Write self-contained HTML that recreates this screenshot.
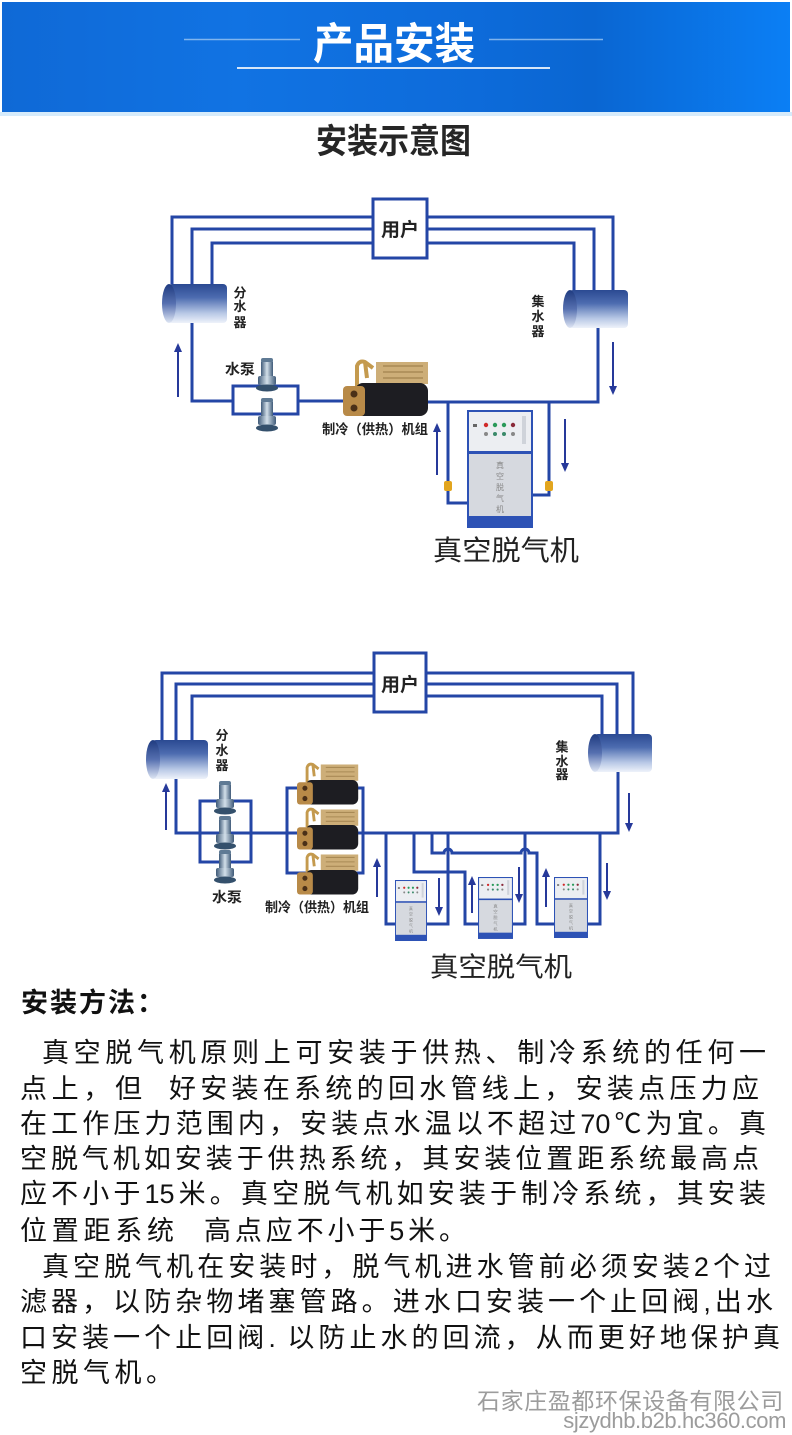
<!DOCTYPE html>
<html><head><meta charset="utf-8">
<style>
html,body{margin:0;padding:0;}
body{width:792px;height:1435px;position:relative;background:#fff;overflow:hidden;font-family:"Liberation Sans","Noto Sans CJK SC",sans-serif;}
.hdr{position:absolute;left:2px;top:2px;width:788px;height:110px;background:linear-gradient(90deg,#0f69d6 0%,#1173e3 30%,#0d6bda 60%,#0a66d2 75%,#0b7ff5 100%);}
.hstrip{position:absolute;left:0;top:112px;width:792px;height:4px;background:#d6ebfb;}
.ln{position:absolute;font-size:27px;line-height:35px;height:35px;text-align:justify;text-align-last:justify;color:#111;font-family:"Liberation Sans","Noto Sans CJK SC",sans-serif;}
</style></head><body>
<div class="hdr"></div>
<div class="hstrip"></div>
<svg width="792" height="1435" style="position:absolute;left:0;top:0" xmlns="http://www.w3.org/2000/svg" font-family="Liberation Sans, Noto Sans CJK SC, sans-serif">
<defs>
<linearGradient id="cyl" x1="0" y1="0" x2="0" y2="1">
<stop offset="0" stop-color="#2b4a92"/><stop offset="0.35" stop-color="#4d6cb0"/><stop offset="0.75" stop-color="#b8c8e6"/><stop offset="1" stop-color="#eef2fa"/></linearGradient>
<linearGradient id="cylc" x1="0" y1="0" x2="0" y2="1">
<stop offset="0" stop-color="#1f3b80"/><stop offset="0.5" stop-color="#5670b0"/><stop offset="1" stop-color="#dfe6f4"/></linearGradient>
<linearGradient id="pg" x1="0" y1="0" x2="1" y2="0">
<stop offset="0" stop-color="#3f5a78"/><stop offset="0.5" stop-color="#d3e0ea"/><stop offset="1" stop-color="#3f5a78"/></linearGradient>
<g id="pump">
<rect x="-6" y="0" width="12" height="5" rx="2" fill="#5f7a94"/>
<rect x="-6" y="4" width="12" height="15" fill="url(#pg)"/>
<rect x="-9" y="18" width="18" height="9" rx="2" fill="url(#pg)"/>
<ellipse cx="0" cy="30" rx="11" ry="3.5" fill="#34506c"/>
</g>
<g id="chiller">
<path d="M14,26 L14,6 Q16,0 22,2 L30,8 M22,2 L24,18" stroke="#c49a4e" stroke-width="4" fill="none"/>
<rect x="33" y="2" width="52" height="22" fill="#cdae78"/>
<path d="M40,6 H80 M40,12 H80 M40,18 H80" stroke="#a98a55" stroke-width="1.5"/>
<rect x="12" y="23" width="73" height="33" rx="8" fill="#1d1d22"/>
<rect x="0" y="26" width="22" height="30" rx="4" fill="#b88a48"/>
<circle cx="11" cy="34" r="3.5" fill="#4a3018"/>
<circle cx="11" cy="48" r="3.5" fill="#4a3018"/>
</g>
<g id="dea">
<rect x="0" y="0" width="66" height="118" fill="#2d52b5"/>
<rect x="2" y="2" width="62" height="39" fill="#eceef2"/>
<rect x="2" y="44" width="62" height="62" fill="#d6d9df"/>
<rect x="6" y="14" width="4" height="3" fill="#666"/>
<circle cx="19" cy="15" r="2.2" fill="#d02a2a"/><circle cx="28" cy="15" r="2.2" fill="#2a9a5a"/><circle cx="37" cy="15" r="2.2" fill="#2a9a5a"/><circle cx="46" cy="15" r="2.2" fill="#8a2a3a"/>
<circle cx="19" cy="24" r="2" fill="#888"/><circle cx="28" cy="24" r="2" fill="#3a8a6a"/><circle cx="37" cy="24" r="2" fill="#3a8a6a"/><circle cx="46" cy="24" r="2" fill="#888"/>
<rect x="55" y="6" width="4" height="28" fill="#cfd3da"/>
<text x="33" y="58" font-size="8" fill="#888" text-anchor="middle">真</text>
<text x="33" y="69" font-size="8" fill="#888" text-anchor="middle">空</text>
<text x="33" y="80" font-size="8" fill="#888" text-anchor="middle">脱</text>
<text x="33" y="91" font-size="8" fill="#888" text-anchor="middle">气</text>
<text x="33" y="102" font-size="8" fill="#888" text-anchor="middle">机</text>
</g>
</defs>

<!-- header decorations -->
<line x1="184" y1="39.5" x2="300" y2="39.5" stroke="#9cc6f2" stroke-width="1.5" opacity="0.8"/>
<line x1="489" y1="39.5" x2="603" y2="39.5" stroke="#9cc6f2" stroke-width="1.5" opacity="0.8"/>
<line x1="237" y1="68" x2="550" y2="68" stroke="#d6e6f8" stroke-width="2"/>
<text x="313" y="59" font-size="43" font-weight="bold" fill="#fff" textLength="162" lengthAdjust="spacingAndGlyphs">产品安装</text>
<text x="316" y="153" font-size="34" font-weight="bold" fill="#262626" textLength="155" lengthAdjust="spacingAndGlyphs">安装示意图</text>

<!-- ============ DIAGRAM 1 ============ -->
<g fill="none" stroke="#2446a6" stroke-width="3">
<polyline points="172,284 172,217 373,217"/>
<polyline points="192,284 192,229 373,229"/>
<polyline points="212,284 212,243 373,243"/>
<polyline points="427,217 613,217 613,290"/>
<polyline points="427,229 594,229 594,290"/>
<polyline points="427,243 574,243 574,290"/>
<polyline points="192,323 192,401 233,401"/>
<rect x="233" y="386" width="65" height="28"/>
<line x1="298" y1="401" x2="348" y2="401"/>
<polyline points="426,402 598,402 598,328"/>
<polyline points="448,402 448,503 467,503"/>
<polyline points="549,402 549,495 533,495"/>
</g>
<rect x="373" y="199" width="54" height="59" fill="#fff" stroke="#2446a6" stroke-width="3"/>
<text x="381" y="236" font-size="19" font-weight="bold" fill="#222" textLength="38" lengthAdjust="spacingAndGlyphs">用户</text>
<!-- cylinders -->
<rect x="168" y="284" width="59" height="39" rx="4" fill="url(#cyl)"/>
<ellipse cx="169" cy="303.5" rx="7" ry="19.5" fill="url(#cylc)"/>
<rect x="569" y="290" width="59" height="38" rx="4" fill="url(#cyl)"/>
<ellipse cx="570" cy="309" rx="7" ry="19" fill="url(#cylc)"/>
<g font-size="13" font-weight="bold" fill="#222" text-anchor="middle">
<text x="240" y="297.5">分</text><text x="240" y="311">水</text><text x="240" y="327">器</text>
<text x="538" y="306">集</text><text x="538" y="321">水</text><text x="538" y="336">器</text>
</g>
<text x="225" y="374" font-size="14" font-weight="bold" fill="#222" textLength="30" lengthAdjust="spacingAndGlyphs">水泵</text>
<use href="#pump" x="267" y="358"/>
<use href="#pump" x="267" y="398"/>
<use href="#chiller" transform="translate(343,360)"/>
<text x="322" y="434" font-size="13.5" font-weight="bold" fill="#222" textLength="106" lengthAdjust="spacingAndGlyphs">制冷（供热）机组</text>
<!-- arrows -->
<g stroke="#26399a" stroke-width="2" fill="#26399a">
<line x1="178" y1="350" x2="178" y2="397"/><polygon points="174,352 182,352 178,343" stroke="none"/>
<line x1="613" y1="342" x2="613" y2="388"/><polygon points="609,386 617,386 613,395" stroke="none"/>
<line x1="437" y1="430" x2="437" y2="475"/><polygon points="433,432 441,432 437,423" stroke="none"/>
<line x1="565" y1="419" x2="565" y2="465"/><polygon points="561,463 569,463 565,472" stroke="none"/>
</g>
<!-- valves -->
<rect x="444" y="481" width="8" height="10" rx="2" fill="#e2a51e"/>
<rect x="545" y="481" width="8" height="10" rx="2" fill="#e2a51e"/>
<use href="#dea" transform="translate(467,410)"/>
<text x="433" y="560" font-size="28" fill="#222" textLength="146" lengthAdjust="spacingAndGlyphs">真空脱气机</text>

<!-- ============ DIAGRAM 2 ============ -->
<g fill="none" stroke="#2446a6" stroke-width="3">
<polyline points="162,740 162,673 374,673"/>
<polyline points="176,740 176,684 374,684"/>
<polyline points="192,740 192,696 374,696"/>
<polyline points="426,673 633,673 633,735"/>
<polyline points="426,684 617,684 617,735"/>
<polyline points="426,696 602,696 602,735"/>
<polyline points="176,779 176,833 618,833 618,772"/>
<rect x="200" y="801" width="51" height="61"/>
<rect x="287" y="788" width="76" height="85"/>
<polyline points="386,833 386,924 395,924"/>
<polyline points="414,833 414,872 465,872 465,924 478,924"/>
<path d="M432,833 V853 H444 A4,4 0 0 1 452,853 H521 A4,4 0 0 1 529,853 H537 V924 H554"/>
<polyline points="427,924 448,924 448,833"/>
<polyline points="513,924 525,924 525,833"/>
<polyline points="588,924 600,924 600,833"/>
</g>
<rect x="374" y="653" width="52" height="59" fill="#fff" stroke="#2446a6" stroke-width="3"/>
<text x="381" y="691" font-size="19" font-weight="bold" fill="#222" textLength="38" lengthAdjust="spacingAndGlyphs">用户</text>
<rect x="152" y="740" width="56" height="39" rx="4" fill="url(#cyl)"/>
<ellipse cx="153" cy="759.5" rx="7" ry="19.5" fill="url(#cylc)"/>
<rect x="594" y="734" width="58" height="38" rx="4" fill="url(#cyl)"/>
<ellipse cx="595" cy="753" rx="7" ry="19" fill="url(#cylc)"/>
<g font-size="13" font-weight="bold" fill="#222" text-anchor="middle">
<text x="222" y="740">分</text><text x="222" y="755">水</text><text x="222" y="770">器</text>
<text x="562" y="751.5">集</text><text x="562" y="766">水</text><text x="562" y="779">器</text>
</g>
<use href="#pump" x="225" y="781"/>
<use href="#pump" x="225" y="816"/>
<use href="#pump" x="225" y="850"/>
<text x="212" y="902" font-size="14" font-weight="bold" fill="#222" textLength="30" lengthAdjust="spacingAndGlyphs">水泵</text>
<use href="#chiller" transform="translate(297,763) scale(0.72,0.74)"/>
<use href="#chiller" transform="translate(297,808) scale(0.72,0.74)"/>
<use href="#chiller" transform="translate(297,853) scale(0.72,0.74)"/>
<text x="265" y="912" font-size="13.5" font-weight="bold" fill="#222" textLength="104" lengthAdjust="spacingAndGlyphs">制冷（供热）机组</text>
<g stroke="#26399a" stroke-width="2" fill="#26399a">
<line x1="166" y1="790" x2="166" y2="830"/><polygon points="162,792 170,792 166,783" stroke="none"/>
<line x1="629" y1="793" x2="629" y2="825"/><polygon points="625,823 633,823 629,832" stroke="none"/>
<line x1="377" y1="865" x2="377" y2="897"/><polygon points="373,867 381,867 377,858" stroke="none"/>
<line x1="439" y1="878" x2="439" y2="909"/><polygon points="435,907 443,907 439,916" stroke="none"/>
<line x1="472" y1="883" x2="472" y2="913"/><polygon points="468,885 476,885 472,876" stroke="none"/>
<line x1="519" y1="867" x2="519" y2="896"/><polygon points="515,894 523,894 519,903" stroke="none"/>
<line x1="546" y1="875" x2="546" y2="907"/><polygon points="542,877 550,877 546,868" stroke="none"/>
<line x1="607" y1="863" x2="607" y2="893"/><polygon points="603,891 611,891 607,900" stroke="none"/>
</g>
<use href="#dea" transform="translate(395,880) scale(0.485,0.517)"/>
<use href="#dea" transform="translate(478,877) scale(0.53,0.525)"/>
<use href="#dea" transform="translate(554,877) scale(0.515,0.517)"/>
<text x="430" y="976.5" font-size="27" fill="#222" textLength="142" lengthAdjust="spacingAndGlyphs">真空脱气机</text>
</svg>

<div style="position:absolute;left:21px;top:986px;font-size:27px;line-height:35px;font-weight:bold;letter-spacing:2px;color:#111;white-space:nowrap;">安装方法：</div>
<div class="ln" style="left:42px;top:1036px;width:724px;">真空脱气机原则上可安装于供热、制冷系统的任何一</div>
<div class="ln" style="left:20px;top:1072px;width:122px;">点上，但</div>
<div class="ln" style="left:169px;top:1072px;width:590px;">好安装在系统的回水管线上，安装点压力应</div>
<div class="ln" style="left:20px;top:1107px;width:746px;">在工作压力范围内，安装点水温以不超过70℃为宜。真</div>
<div class="ln" style="left:20px;top:1142px;width:739px;">空脱气机如安装于供热系统，其安装位置距系统最高点</div>
<div class="ln" style="left:20px;top:1177px;width:746px;">应不小于15米。真空脱气机如安装于制冷系统，其安装</div>
<div class="ln" style="left:20px;top:1214px;width:154px;">位置距系统</div>
<div class="ln" style="left:204px;top:1214px;width:262px;">高点应不小于5米。</div>
<div class="ln" style="left:42px;top:1250px;width:729px;">真空脱气机在安装时，脱气机进水管前必须安装2个过</div>
<div class="ln" style="left:20px;top:1285px;width:753px;">滤器，以防杂物堵塞管路。进水口安装一个止回阀,出水</div>
<div class="ln" style="left:20px;top:1321px;width:760px;">口安装一个止回阀. 以防止水的回流，从而更好地保护真</div>
<div class="ln" style="left:20px;top:1356px;width:153px;">空脱气机。</div>

<div style="position:absolute;left:477px;top:1387px;height:28px;line-height:28px;font-size:23px;letter-spacing:0.6px;color:#9c9c9c;white-space:nowrap;">石家庄盈都环保设备有限公司</div>
<div style="position:absolute;right:6px;top:1408px;font-size:22px;line-height:26px;letter-spacing:-0.4px;color:#9c9c9c;font-family:'Liberation Sans',sans-serif;white-space:nowrap;">sjzydhb.b2b.hc360.com</div>
</body></html>
